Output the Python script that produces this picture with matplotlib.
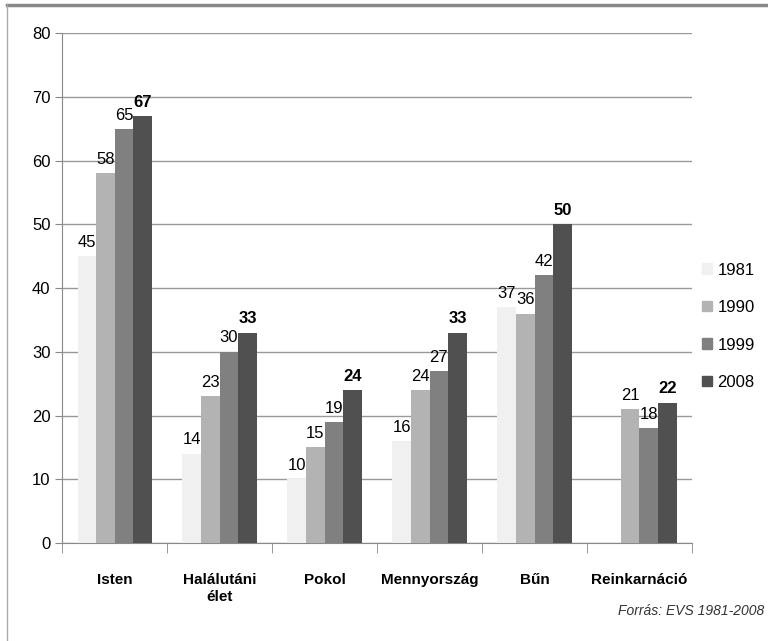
import matplotlib.pyplot as plt
import numpy as np
from matplotlib.lines import Line2D

plt.rcParams['font.family'] = ['Liberation Sans', 'DejaVu Sans']

categories = ["Isten", "Halálutáni\nélet", "Pokol", "Mennyország", "Bűn", "Reinkarnáció"]
years = ["1981", "1990", "1999", "2008"]
v1981 = [45, 14, 10, 16, 37, None]
v1990 = [58, 23, 15, 24, 36, 21]
v1999 = [65, 30, 19, 27, 42, 18]
v2008 = [67, 33, 24, 33, 50, 22]
colors = ["#f0f0f0", "#b3b3b3", "#808080", "#505050"]

fig = plt.figure(figsize=(7.68, 6.41), dpi=100)
ax = fig.add_axes([0.081, 0.153, 0.82, 0.795])

x = np.arange(len(categories))
w = 0.177
series = [v1981, v1990, v1999, v2008]
for i, vals in enumerate(series):
    pos = x + (i - 1.5) * w
    for p, v in zip(pos, vals):
        if v is None:
            continue
        ax.bar(p, v, width=w, color=colors[i], zorder=3)
        ax.text(p, v + 1.0, str(v), ha="center", va="bottom", fontsize=12,
                fontweight="bold" if i == 3 else "normal", color="black")

ax.set_ylim(0, 80)
ax.set_xlim(-0.5, len(categories) - 0.5)
ax.set_yticks(range(0, 81, 10))
ax.tick_params(axis="y", labelsize=12, length=5, color="#888888")
ax.yaxis.grid(True, color="#999999", linewidth=1, zorder=0)
ax.set_xticks(x)
ax.set_xticklabels(categories, fontsize=11, fontweight="bold")
ax.tick_params(axis="x", length=0, pad=22)
ax.set_xticks(np.arange(-0.5, len(categories), 1), minor=True)
ax.tick_params(axis="x", which="minor", length=7, color="#888888")
for s in ["top", "right"]:
    ax.spines[s].set_visible(False)
for s in ["left", "bottom"]:
    ax.spines[s].set_color("#888888")

handles = [plt.Rectangle((0, 0), 1, 1, color=c) for c in colors]
fig.legend(handles, years, loc="center left", bbox_to_anchor=(0.895, 0.491),
           frameon=False, fontsize=12, handlelength=0.6, handleheight=0.6,
           labelspacing=1.35, handletextpad=0.3)

fig.text(0.995, 0.047, "Forrás: EVS 1981-2008", ha="right", va="center",
         fontsize=10, style="italic", color="#333333")

fig.add_artist(Line2D([0.009, 1], [0.992, 0.992], color="#888888", linewidth=2.5))
fig.add_artist(Line2D([0.009, 0.009], [0, 0.992], color="#aaaaaa", linewidth=1))

fig.savefig("out.png", dpi=100)
